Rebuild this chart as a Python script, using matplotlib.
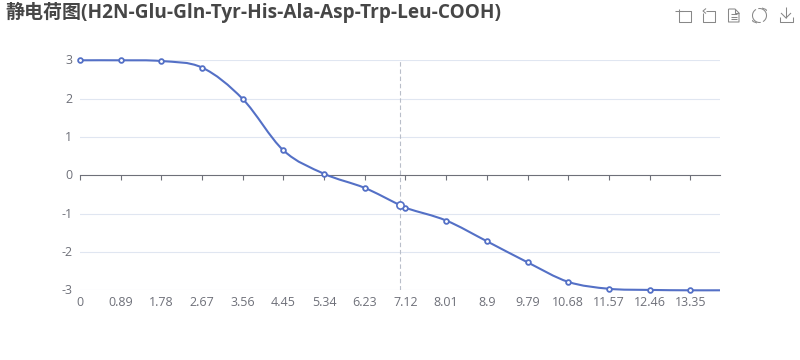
import numpy as np
from matplotlib import pyplot as plt
from matplotlib.lines import Line2D
from matplotlib.patches import PathPatch
from matplotlib.path import Path
from matplotlib.transforms import ScaledTranslation

plt.rcParams['font.family'] = ['Open Sans', 'Noto Sans CJK SC', 'DejaVu Sans']

titleText = '静电荷图(H2N-Glu-Gln-Tyr-His-Ala-Asp-Trp-Leu-COOH)'
phValues = [0, 0.89, 1.78, 2.67, 3.56, 4.45, 5.34, 6.23, 7.0, 7.12, 8.01, 8.9, 9.79, 10.68, 11.57, 12.46, 13.35, 14]
chargeValues = [3.0, 3.0, 2.98, 2.81, 1.99, 0.65, 0.04, -0.33, -0.78, -0.85, -1.18, -1.72, -2.27, -2.78, -2.96, -2.99, -3.0, -3.0]
xTicks = [0, 0.89, 1.78, 2.67, 3.56, 4.45, 5.34, 6.23, 7.12, 8.01, 8.9, 9.79, 10.68, 11.57, 12.46, 13.35]
xTickLabels = ['0', '0.89', '1.78', '2.67', '3.56', '4.45', '5.34', '6.23', '7.12', '8.01', '8.9', '9.79', '10.68', '11.57', '12.46', '13.35']
yTicks = [-3, -2, -1, 0, 1, 2, 3]
hoverPh = 7.0
hoverCharge = -0.78

W, H = 800, 360
lineColor = '#5470c6'
axisColor = '#6e7079'
gridColor = '#e0e6f1'
iconColor = '#888888'


def smoothPath(xs, ys, smooth=1 / 3):
    # bezier through the points, slopes from the neighbours
    xs = np.array(xs, dtype=float)
    ys = np.array(ys, dtype=float)
    verts = [(xs[0], ys[0])]
    codes = [Path.MOVETO]
    n = len(xs)
    for i in range(n - 1):
        prev = max(i - 1, 0)
        nxt = min(i + 2, n - 1)
        dx = xs[i + 1] - xs[i]
        s1 = (ys[i + 1] - ys[prev]) / (xs[i + 1] - xs[prev])
        s2 = (ys[nxt] - ys[i]) / (xs[nxt] - xs[i])
        verts += [(xs[i] + dx * smooth, ys[i] + s1 * dx * smooth),
                  (xs[i + 1] - dx * smooth, ys[i + 1] - s2 * dx * smooth),
                  (xs[i + 1], ys[i + 1])]
        codes += [Path.CURVE4] * 3
    return Path(verts, codes)


def iconLine(fig, xs, ys, lw=0.75):
    # icon coordinates are in pixels from the top left
    fx = [x / W for x in xs]
    fy = [1 - y / H for y in ys]
    fig.add_artist(Line2D(fx, fy, color=iconColor, lw=lw, transform=fig.transFigure, solid_capstyle='butt'))


def drawToolbox(fig):
    # zoom
    iconLine(fig, [679, 679, 691, 691, 679], [9, 22, 22, 11, 11])
    iconLine(fig, [675, 683], [11, 11])
    # zoom reset
    iconLine(fig, [703, 703, 715, 715, 706], [13, 22, 22, 11, 11])
    iconLine(fig, [706, 703, 706], [8.5, 11, 13.5])
    # data view
    iconLine(fig, [728.5, 728.5, 739, 739, 735, 728.5], [9, 22, 22, 13, 9, 9])
    iconLine(fig, [735, 735, 739], [9, 13, 13])
    for y in [14, 16.5, 19]:
        iconLine(fig, [731, 736.5], [y, y])
    # restore
    t = np.radians(np.linspace(-60, 100, 30))
    iconLine(fig, 759.5 + 7 * np.cos(t), 15.5 - 7 * np.sin(t))
    iconLine(fig, 759.5 + 7 * np.cos(t + np.pi), 15.5 - 7 * np.sin(t + np.pi))
    iconLine(fig, [762, 766, 766.5], [8, 9.5, 11])
    iconLine(fig, [757, 753, 752.5], [23, 21.5, 20])
    # download
    iconLine(fig, [786, 786], [7, 18])
    iconLine(fig, [781, 786, 791], [13, 18, 13])
    iconLine(fig, [779.5, 779.5, 792.5, 792.5], [17, 22, 22, 17])


fig = plt.figure(figsize=(W / 100, H / 100), dpi=100)
ax = fig.add_axes([80 / W, 1 - 290.3 / H, 640 / W, 230 / H])
ax.set_xlim(0, 14)
ax.set_ylim(-3, 3)

for side in ['top', 'left', 'right']:
    ax.spines[side].set_visible(False)
ax.spines['bottom'].set_position(('data', 0))
ax.spines['bottom'].set_color(axisColor)
ax.spines['bottom'].set_linewidth(0.8)
ax.spines['bottom'].set_zorder(2)

ax.set_yticks(yTicks)
ax.set_yticklabels([str(v) for v in yTicks])
ax.set_xticks(xTicks)
ax.set_xticklabels(xTickLabels)
ax.tick_params(axis='y', length=0, pad=5.5, labelsize=9, labelcolor=axisColor)
ax.tick_params(axis='x', length=3.6, width=0.8, color=axisColor, pad=83, labelsize=9, labelcolor=axisColor)
# y labels sit a little above their lines in the reference
for label in ax.get_yticklabels():
    label.set_transform(label.get_transform() + ScaledTranslation(0, 1 / 100, fig.dpi_scale_trans))
for v in yTicks:
    if v != 0:
        ax.axhline(v, color=gridColor, lw=0.8, zorder=1)

ax.axvline(hoverPh, color='#b9bec9', lw=0.8, ls=(0, (4, 2.5)), zorder=1)

curve = PathPatch(smoothPath(phValues, chargeValues), fill=False, edgecolor=lineColor, lw=1.5, clip_on=False, zorder=3)
curve.set_snap(False)
ax.add_patch(curve)
# symbols only where the axis has a label, the hover point is bigger
markerX = [x for x in phValues if x in xTicks]
markerY = [y for x, y in zip(phValues, chargeValues) if x in xTicks]
ax.plot(markerX, markerY, ls='none', marker='o', ms=3.4, mfc='white', mec=lineColor, mew=1.3, clip_on=False, zorder=4)
ax.plot([hoverPh], [hoverCharge], ls='none', marker='o', ms=5.2, mfc='white', mec=lineColor, mew=1.2, clip_on=False, zorder=5)

fig.text(5 / W, 1 - 12.5 / H, titleText, fontsize=13.7, fontweight='bold', color='#464646', va='center', ha='left')
drawToolbox(fig)

plt.savefig('out.png', dpi=100)
plt.close()
